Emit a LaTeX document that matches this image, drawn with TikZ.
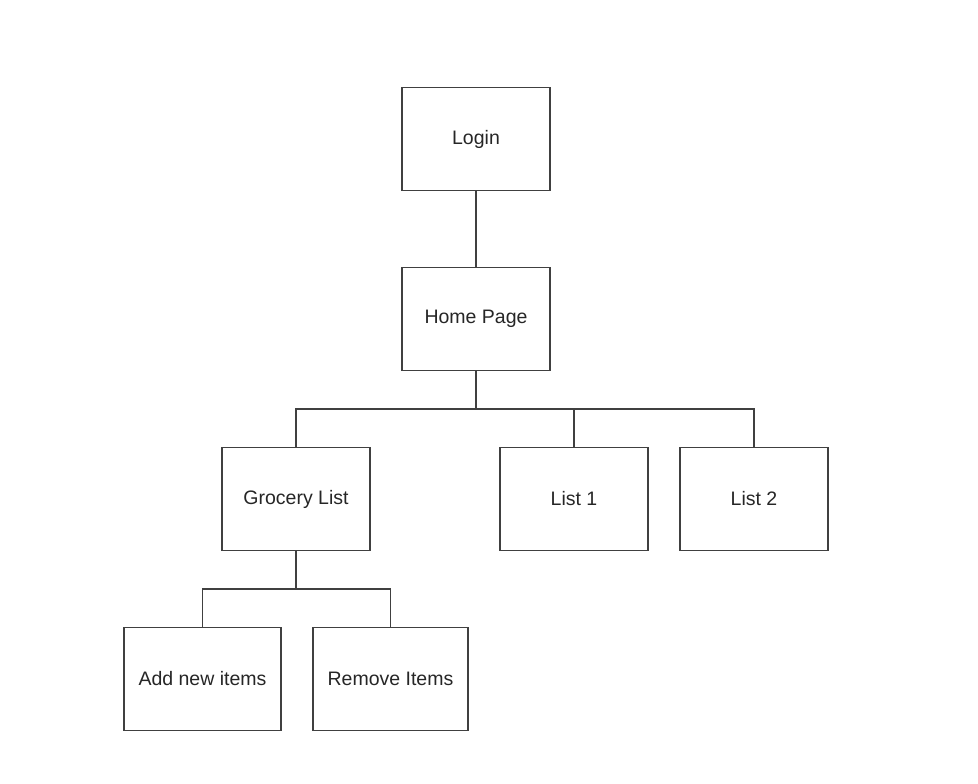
\documentclass[tikz,border=0pt]{standalone}
\usepackage{fontspec}
\setmainfont{Liberation Sans}
\begin{document}
\begin{tikzpicture}[x=1pt,y=-1pt,
  box/.style={draw=black!75,line width=1.2pt,fill=white,minimum width=#1,minimum height=103pt,inner sep=0pt,font=\fontsize{19.5}{22}\selectfont,text=black!85},
  box/.default=148pt,
  link/.style={draw=black!75,line width=1.2pt}]
\useasboundingbox (0,0) rectangle (978,784);
\node[box] (login) at (476,139) {Login};
\node[box] (home) at (476,319) {Home Page};
\node[box] (groc) at (296,499) {Grocery List};
\node[box] (l1) at (574,499) {List 1};
\node[box] (l2) at (754,499) {List 2};
\node[box=157pt] (add) at (202.5,679) {Add new items};
\node[box=155pt] (rem) at (390.5,679) {Remove Items};
\coordinate (j1) at (476,409);
\coordinate (j2) at (296,589);
\draw[link] (login.south) -- (home.north);
\draw[link] (home.south) -- (j1);
\draw[link] (groc.north) |- (j1) -| (l2.north);
\draw[link] (l1.north) -- (l1.north |- j1);
\draw[link] (groc.south) -- (j2);
\draw[link] (add.north) |- (j2) -| (rem.north);
\end{tikzpicture}
\end{document}
